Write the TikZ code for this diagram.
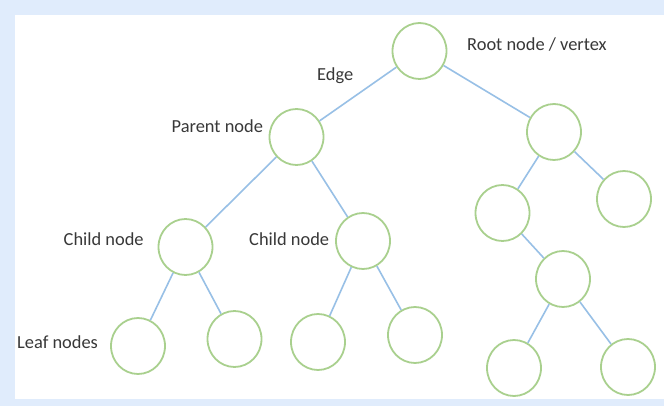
\documentclass[tikz,border=0pt]{standalone}
\usepackage{fontspec}
\setmainfont{Carlito}
\usetikzlibrary{shapes.geometric}
\definecolor{pageblue}{RGB}{224,236,252}
\definecolor{ringgreen}{RGB}{169,208,142}
\definecolor{edgeblue}{RGB}{152,192,230}
\definecolor{labelgray}{RGB}{56,56,56}
\begin{document}
\begin{tikzpicture}[x=1pt,y=-1pt,
  vtx/.style={ellipse,draw=ringgreen,line width=1.8pt,fill=white,
    minimum width=54pt,minimum height=56pt,inner sep=0pt},
  link/.style={draw=edgeblue,line width=1.6pt},
  lbl/.style={anchor=base west,inner sep=0pt,text=labelgray,
    font=\fontsize{18.4}{21}\selectfont}]
% frame
\fill[pageblue] (0,0) rectangle (664,406);
\fill[white] (15,15) rectangle (664,399);
\useasboundingbox (0,0) rectangle (664,406);
% vertex centres
\coordinate (pR) at (419.5,51);
\coordinate (pP) at (296.5,137);
\coordinate (pA) at (554,132);
\coordinate (pC1) at (185.5,247);
\coordinate (pC2) at (363,241);
\coordinate (pAL) at (502.5,213);
\coordinate (pAR) at (624,199);
\coordinate (pAM) at (563,279);
\coordinate (pL1) at (138,346);
\coordinate (pL2) at (234.5,339);
\coordinate (pL3) at (318,342);
\coordinate (pL4) at (415,335);
\coordinate (pB1) at (514,368);
\coordinate (pB2) at (628,367);
% nodes
\node[vtx] (root) at (pR) {};
\node[vtx] (parent) at (pP) {};
\node[vtx] (right) at (pA) {};
\node[vtx] (child1) at (pC1) {};
\node[vtx] (child2) at (pC2) {};
\node[vtx] (rleft) at (pAL) {};
\node[vtx] (rright) at (pAR) {};
\node[vtx] (rmid) at (pAM) {};
\node[vtx] (leaf1) at (pL1) {};
\node[vtx] (leaf2) at (pL2) {};
\node[vtx] (leaf3) at (pL3) {};
\node[vtx] (leaf4) at (pL4) {};
\node[vtx] (leaf5) at (pB1) {};
\node[vtx] (leaf6) at (pB2) {};
% connectors
\draw[link] (root) -- (parent);
\draw[link] (root) -- (right);
\draw[link] (parent) -- (child1);
\draw[link] (parent) -- (child2);
\draw[link] (right) -- (rleft);
\draw[link] (right) -- (rright);
\draw[link] (rleft) -- (rmid);
\draw[link] (child1) -- (leaf1);
\draw[link] (child1) -- (leaf2);
\draw[link] (child2) -- (leaf3);
\draw[link] (child2) -- (leaf4);
\draw[link] (rmid) -- (leaf5);
\draw[link] (rmid) -- (leaf6);
% labels
\node[lbl] (tRoot) at (467,51) {Root node / vertex};
\node[lbl] (tEdge) at (317,81) {Edge};
\node[lbl] (tParent) at (171.5,133) {Parent node};
\node[lbl] (tChildA) at (63.5,245) {Child node};
\node[lbl] (tChildB) at (249,245) {Child node};
\node[lbl] (tLeaf) at (17,348) {Leaf nodes};
\end{tikzpicture}
\end{document}
